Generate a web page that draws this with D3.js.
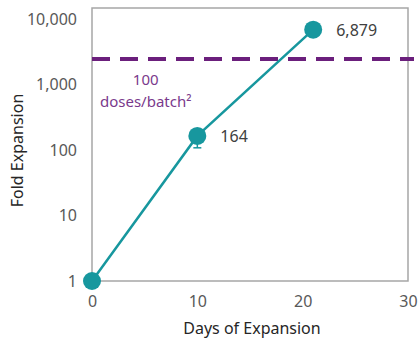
<!DOCTYPE html>
<html><head><meta charset="utf-8">
<script src="https://cdn.jsdelivr.net/npm/d3@7"></script>
<style>body{margin:0;background:#fff}svg{display:block}text{font-family:"Noto Sans",sans-serif}</style>
</head><body><svg id="c" width="420" height="345"></svg>
<script>
const days = [0, 10, 21];
const foldExpansion = [1, 164, 6879];
const pointLabels = ["", "164", "6,879"];
const errLow = [1, 108, 6879];
const threshold = 2450;
const thresholdLabel = ["100", "doses/batch\u00b2"];
const yTicks = [1, 10, 100, 1000, 10000];
const xTicks = [0, 10, 20, 30];

const svg = d3.select("#c");
const L = 92, R = 408, T = 8, B = 281;
const x = d3.scaleLinear().domain([0, 30]).range([L, R]);
const y = d3.scaleLog().domain([1, Math.pow(10, 4.168)]).range([B, T]);
const teal = "#17979e", purple = "#6b1f7c", grey = "#a6a6a6", txt = "#595959";

svg.append("rect").attr("x", L).attr("y", T).attr("width", R - L).attr("height", B - T)
  .attr("fill", "none").attr("stroke", grey).attr("stroke-width", 1.5);

const yAxis = d3.axisLeft(y).tickValues(yTicks).tickFormat(d3.format(",")).tickSize(0).tickPadding(15);
svg.append("g").attr("transform", `translate(${L},0)`).call(yAxis)
  .call(g => g.select(".domain").remove())
  .selectAll("text").attr("fill", txt).attr("font-size", 16);
const xAxis = d3.axisBottom(x).tickValues(xTicks).tickSize(0).tickPadding(15);
svg.append("g").attr("transform", `translate(0,${B})`).call(xAxis)
  .call(g => g.select(".domain").remove())
  .selectAll("text").attr("fill", txt).attr("font-size", 16);

svg.append("line").attr("x1", L).attr("x2", 414).attr("y1", y(threshold)).attr("y2", y(threshold))
  .attr("stroke", purple).attr("stroke-width", 4).attr("stroke-dasharray", "18,10");
svg.append("text").attr("text-anchor", "middle").attr("fill", "#7a3a8c").attr("font-size", 15)
  .selectAll("tspan").data(thresholdLabel).join("tspan")
  .attr("x", x(5.1)).attr("y", (d, i) => y(threshold) + 26 + i * 22).text(d => d);

const pts = days.map((d, i) => ({d, v: foldExpansion[i], lab: pointLabels[i], lo: errLow[i]}));
svg.append("path").datum(pts).attr("fill", "none").attr("stroke", teal).attr("stroke-width", 2.5)
  .attr("d", d3.line().x(p => x(p.d)).y(p => y(p.v)));
pts.filter(p => p.lo < p.v).forEach(p => {
  svg.append("line").attr("x1", x(p.d)).attr("x2", x(p.d)).attr("y1", y(p.v)).attr("y2", y(p.lo)).attr("stroke", teal).attr("stroke-width", 1.5);
  svg.append("line").attr("x1", x(p.d) - 4).attr("x2", x(p.d) + 4).attr("y1", y(p.lo)).attr("y2", y(p.lo)).attr("stroke", teal).attr("stroke-width", 1.5);
});
svg.selectAll("circle.pt").data(pts).join("circle").attr("class", "pt")
  .attr("cx", p => x(p.d)).attr("cy", p => y(p.v)).attr("r", 9).attr("fill", teal);
svg.selectAll("text.pl").data(pts).join("text").attr("class", "pl")
  .attr("x", p => x(p.d) + 23).attr("y", p => y(p.v) + 6).attr("fill", "#404040").attr("font-size", 16).text(p => p.lab);

svg.append("text").attr("transform", `translate(23,${(T + B) / 2 + 6}) rotate(-90)`).attr("text-anchor", "middle")
  .attr("font-size", 16).attr("fill", "#262626").text("Fold Expansion");
svg.append("text").attr("x", (L + R) / 2 + 2).attr("y", 334).attr("text-anchor", "middle")
  .attr("font-size", 16).attr("fill", "#262626").text("Days of Expansion");
</script></body></html>
